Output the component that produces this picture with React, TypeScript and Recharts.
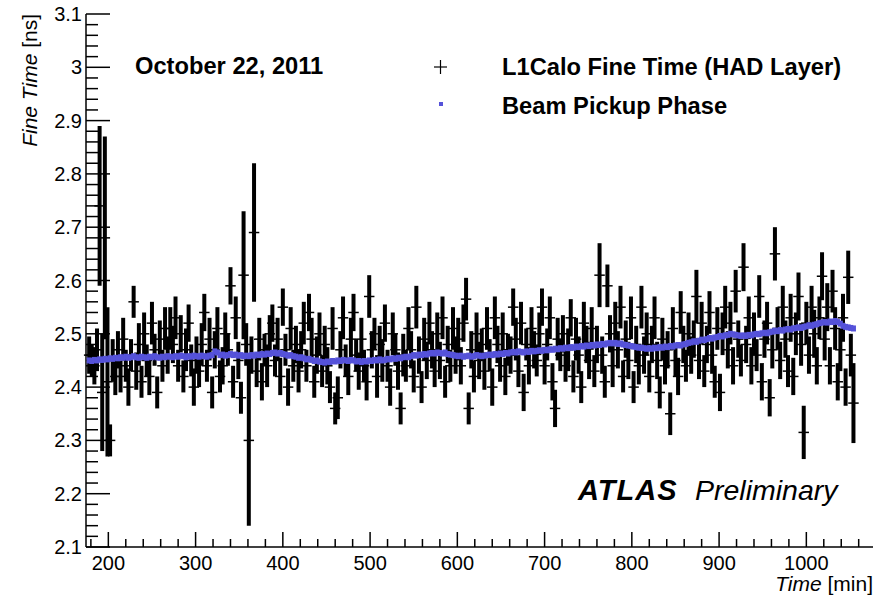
import { ScatterChart, Scatter, XAxis, YAxis, ErrorBar } from "recharts";

// L1Calo fine time vs. beam pickup phase, October 22, 2011

const times = [
  178,
  181, 184, 187, 190, 193, 196, 199, 202, 205, 208,
  211, 214, 217, 220, 223, 226, 229, 232, 235, 238,
  241, 244, 247, 250, 253, 256, 259, 262, 265, 268,
  271, 274, 277, 280, 283, 286, 289, 292, 295, 298,
  301, 304, 307, 310, 313, 316, 319, 322, 325, 328,
  331, 334, 337, 340, 343, 346, 349, 352, 355, 358,
  361, 364, 367, 370, 373, 376, 379, 382, 385, 388,
  391, 394, 397, 400, 403, 406, 409, 412, 415, 418,
  421, 424, 427, 430, 433, 436, 439, 442, 445, 448,
  451, 454, 457, 460, 463, 466, 469, 472, 475, 478,
  481, 484, 487, 490, 493, 496, 499, 502, 505, 508,
  511, 514, 517, 520, 523, 526, 529, 532, 535, 538,
  541, 544, 547, 550, 553, 556, 559, 562, 565, 568,
  571, 574, 577, 580, 583, 586, 589, 592, 595, 598,
  601, 604, 607, 610, 613, 616, 619, 622, 625, 628,
  631, 634, 637, 640, 643, 646, 649, 652, 655, 658,
  661, 664, 667, 670, 673, 676, 679, 682, 685, 688,
  691, 694, 697, 700, 703, 706, 709, 712, 715, 718,
  721, 724, 727, 730, 733, 736, 739, 742, 745, 748,
  751, 754, 757, 760, 763, 766, 769, 772, 775, 778,
  781, 784, 787, 790, 793, 796, 799, 802, 805, 808,
  811, 814, 817, 820, 823, 826, 829, 832, 835, 838,
  841, 844, 847, 850, 853, 856, 859, 862, 865, 868,
  871, 874, 877, 880, 883, 886, 889, 892, 895, 898,
  901, 904, 907, 910, 913, 916, 919, 922, 925, 928,
  931, 934, 937, 940, 943, 946, 949, 952, 955, 958,
  961, 964, 967, 970, 973, 976, 979, 982, 985, 988,
  991, 994, 997, 1000, 1003, 1006, 1009, 1012, 1015, 1018,
  1021, 1024, 1027, 1030, 1033, 1036, 1039, 1042, 1045, 1048,
  1051, 1054,
];

// L1Calo fine time (HAD layer) [ns]
const fineTime = [
  2.46,
  2.45, 2.44, 2.47, 2.74, 2.39, 2.68, 2.41, 2.30, 2.45, 2.42,
  2.47, 2.42, 2.49, 2.44, 2.40, 2.46, 2.56, 2.43, 2.48, 2.41,
  2.50, 2.45, 2.42, 2.52, 2.47, 2.39, 2.49, 2.44, 2.51, 2.46,
  2.51, 2.48, 2.53, 2.44, 2.50, 2.42, 2.47, 2.52, 2.45, 2.40,
  2.46, 2.43, 2.48, 2.54, 2.44, 2.49, 2.39, 2.47, 2.51, 2.42,
  2.44, 2.50, 2.47, 2.59, 2.41, 2.53, 2.45, 2.38, 2.61, 2.48,
  2.30, 2.46, 2.69, 2.43, 2.49, 2.41, 2.47, 2.44, 2.50, 2.52,
  2.45, 2.49, 2.42, 2.55, 2.47, 2.40, 2.51, 2.44, 2.48, 2.43,
  2.47, 2.52, 2.44, 2.54, 2.49, 2.41, 2.46, 2.50, 2.43, 2.48,
  2.44, 2.40, 2.51, 2.36, 2.38, 2.47, 2.53, 2.45, 2.42, 2.49,
  2.54, 2.46, 2.43, 2.49, 2.44, 2.41, 2.57, 2.47, 2.50, 2.42,
  2.48, 2.45, 2.52, 2.44, 2.40, 2.50, 2.47, 2.43, 2.36, 2.46,
  2.44, 2.51, 2.47, 2.42, 2.55, 2.46, 2.40, 2.49, 2.45, 2.52,
  2.47, 2.43, 2.50, 2.45, 2.53, 2.41, 2.48, 2.44, 2.51, 2.46,
  2.49, 2.44, 2.52, 2.565, 2.36, 2.47, 2.42, 2.50, 2.45, 2.48,
  2.43, 2.51, 2.46, 2.40, 2.53, 2.48, 2.44, 2.50, 2.42, 2.47,
  2.46, 2.55, 2.49, 2.43, 2.52, 2.39, 2.48, 2.44, 2.51, 2.47,
  2.45, 2.50, 2.55, 2.44, 2.48, 2.53, 2.41, 2.36, 2.49, 2.46,
  2.50, 2.44, 2.47, 2.53, 2.42, 2.49, 2.46, 2.40, 2.52, 2.48,
  2.45, 2.51, 2.43, 2.48, 2.61, 2.46, 2.41, 2.59, 2.50, 2.44,
  2.52, 2.47, 2.55, 2.42, 2.49, 2.45, 2.53, 2.40, 2.48, 2.44,
  2.55, 2.46, 2.50, 2.42, 2.48, 2.53, 2.45, 2.39, 2.49, 2.44,
  2.47, 2.35, 2.51, 2.45, 2.42, 2.54, 2.48, 2.44, 2.50, 2.46,
  2.49, 2.57, 2.45, 2.52, 2.43, 2.48, 2.54, 2.46, 2.41, 2.51,
  2.39, 2.50, 2.55, 2.47, 2.52, 2.44, 2.58, 2.49, 2.45, 2.625,
  2.48, 2.53, 2.44, 2.50, 2.46, 2.57, 2.41, 2.49, 2.52, 2.38,
  2.47, 2.65, 2.51, 2.45, 2.55, 2.49, 2.43, 2.53, 2.42, 2.50,
  2.57, 2.48, 2.315, 2.52, 2.46, 2.55, 2.50, 2.44, 2.53, 2.608,
  2.49, 2.55, 2.44, 2.58, 2.51, 2.41, 2.47, 2.53, 2.40, 2.606,
  2.46, 2.37,
];

const fineErr = [
  0.035,
  0.03, 0.035, 0.04, 0.15, 0.11, 0.19, 0.14, 0.03, 0.04, 0.035,
  0.035, 0.03, 0.04, 0.03, 0.035, 0.03, 0.03, 0.035, 0.04, 0.03,
  0.04, 0.03, 0.035, 0.04, 0.03, 0.03, 0.035, 0.03, 0.04, 0.035,
  0.04, 0.035, 0.04, 0.03, 0.035, 0.03, 0.04, 0.035, 0.03, 0.035,
  0.035, 0.03, 0.04, 0.035, 0.03, 0.04, 0.03, 0.035, 0.04, 0.03,
  0.035, 0.04, 0.03, 0.035, 0.03, 0.04, 0.035, 0.03, 0.12, 0.04,
  0.16, 0.035, 0.13, 0.03, 0.04, 0.035, 0.03, 0.04, 0.035, 0.035,
  0.03, 0.04, 0.035, 0.035, 0.03, 0.035, 0.04, 0.03, 0.035, 0.04,
  0.035, 0.04, 0.03, 0.035, 0.04, 0.03, 0.035, 0.04, 0.03, 0.035,
  0.035, 0.03, 0.04, 0.03, 0.04, 0.035, 0.04, 0.03, 0.035, 0.04,
  0.035, 0.03, 0.035, 0.04, 0.03, 0.035, 0.04, 0.035, 0.03, 0.04,
  0.035, 0.04, 0.035, 0.03, 0.035, 0.04, 0.03, 0.035, 0.03, 0.04,
  0.03, 0.04, 0.035, 0.03, 0.04, 0.035, 0.03, 0.04, 0.035, 0.04,
  0.035, 0.03, 0.04, 0.035, 0.04, 0.03, 0.035, 0.03, 0.04, 0.035,
  0.04, 0.035, 0.035, 0.04, 0.03, 0.035, 0.03, 0.04, 0.035, 0.03,
  0.035, 0.04, 0.03, 0.035, 0.04, 0.035, 0.03, 0.04, 0.035, 0.03,
  0.035, 0.035, 0.04, 0.03, 0.04, 0.035, 0.03, 0.035, 0.04, 0.035,
  0.03, 0.04, 0.035, 0.035, 0.03, 0.04, 0.035, 0.035, 0.04, 0.03,
  0.035, 0.03, 0.04, 0.035, 0.03, 0.04, 0.035, 0.03, 0.04, 0.035,
  0.035, 0.04, 0.03, 0.035, 0.06, 0.035, 0.03, 0.04, 0.035, 0.04,
  0.04, 0.035, 0.04, 0.03, 0.035, 0.035, 0.04, 0.03, 0.035, 0.035,
  0.04, 0.035, 0.04, 0.03, 0.035, 0.04, 0.035, 0.03, 0.04, 0.035,
  0.035, 0.04, 0.04, 0.03, 0.035, 0.04, 0.035, 0.03, 0.04, 0.035,
  0.035, 0.05, 0.035, 0.04, 0.03, 0.035, 0.04, 0.035, 0.03, 0.04,
  0.035, 0.04, 0.04, 0.035, 0.04, 0.035, 0.04, 0.035, 0.03, 0.045,
  0.035, 0.04, 0.035, 0.04, 0.03, 0.04, 0.035, 0.035, 0.04, 0.035,
  0.035, 0.05, 0.04, 0.035, 0.04, 0.035, 0.03, 0.045, 0.035, 0.04,
  0.045, 0.04, 0.05, 0.04, 0.035, 0.04, 0.045, 0.035, 0.04, 0.045,
  0.04, 0.045, 0.035, 0.04, 0.04, 0.035, 0.04, 0.045, 0.035, 0.05,
  0.04, 0.075,
];

// beam pickup phase [ns]
const pickupPhase = [
  2.450,
  2.449, 2.451, 2.450, 2.452, 2.451, 2.453, 2.452, 2.454, 2.453, 2.455,
  2.454, 2.456, 2.455, 2.457, 2.455, 2.456, 2.458, 2.456, 2.455, 2.457,
  2.456, 2.455, 2.457, 2.456, 2.458, 2.456, 2.455, 2.457, 2.456, 2.458,
  2.457, 2.456, 2.458, 2.457, 2.459, 2.458, 2.456, 2.458, 2.457, 2.459,
  2.458, 2.457, 2.459, 2.458, 2.457, 2.459, 2.460, 2.467, 2.465, 2.460,
  2.461, 2.459, 2.460, 2.462, 2.460, 2.461, 2.459, 2.460, 2.458, 2.459,
  2.458, 2.460, 2.459, 2.461, 2.460, 2.462, 2.461, 2.463, 2.462, 2.464,
  2.465, 2.463, 2.464, 2.462, 2.461, 2.459, 2.460, 2.458, 2.457, 2.455,
  2.456, 2.454, 2.452, 2.453, 2.451, 2.449, 2.450, 2.448, 2.447, 2.446,
  2.448, 2.447, 2.449, 2.448, 2.450, 2.449, 2.451, 2.450, 2.449, 2.451,
  2.450, 2.448, 2.449, 2.447, 2.449, 2.448, 2.450, 2.449, 2.451, 2.450,
  2.452, 2.450, 2.451, 2.453, 2.452, 2.454, 2.453, 2.455, 2.454, 2.456,
  2.457, 2.456, 2.458, 2.460, 2.459, 2.461, 2.460, 2.462, 2.461, 2.463,
  2.464, 2.463, 2.465, 2.464, 2.463, 2.465, 2.462, 2.461, 2.460, 2.459,
  2.458, 2.459, 2.457, 2.458, 2.459, 2.457, 2.458, 2.460, 2.459, 2.458,
  2.459, 2.460, 2.461, 2.460, 2.462, 2.461, 2.463, 2.462, 2.464, 2.463,
  2.465, 2.466, 2.465, 2.467, 2.466, 2.465, 2.467, 2.466, 2.468, 2.467,
  2.468, 2.469, 2.468, 2.470, 2.469, 2.471, 2.470, 2.472, 2.471, 2.473,
  2.472, 2.474, 2.473, 2.475, 2.474, 2.476, 2.475, 2.477, 2.476, 2.478,
  2.477, 2.479, 2.478, 2.480, 2.479, 2.481, 2.480, 2.482, 2.483, 2.482,
  2.483, 2.481, 2.482, 2.480, 2.479, 2.478, 2.477, 2.476, 2.475, 2.474,
  2.474, 2.473, 2.472, 2.473, 2.472, 2.474, 2.473, 2.475, 2.474, 2.476,
  2.475, 2.477, 2.476, 2.478, 2.479, 2.478, 2.480, 2.481, 2.483, 2.484,
  2.486, 2.485, 2.487, 2.489, 2.488, 2.490, 2.492, 2.491, 2.493, 2.494,
  2.496, 2.495, 2.497, 2.498, 2.500, 2.499, 2.498, 2.497, 2.496, 2.497,
  2.496, 2.498, 2.497, 2.499, 2.500, 2.499, 2.501, 2.502, 2.501, 2.503,
  2.504, 2.506, 2.505, 2.507, 2.506, 2.508, 2.509, 2.508, 2.510, 2.511,
  2.512, 2.511, 2.513, 2.514, 2.516, 2.515, 2.517, 2.518, 2.520, 2.521,
  2.522, 2.521, 2.523, 2.522, 2.524, 2.522, 2.519, 2.515, 2.513, 2.512,
  2.511, 2.510,
];

// half width of each time bin [min]
const timeHalfWidth = 6;

const xMajorTicks = [200, 300, 400, 500, 600, 700, 800, 900, 1000];
const xMinorTicks = [
  180, 220, 240, 260, 280, 320, 340, 360, 380, 420, 440, 460, 480, 520, 540, 560, 580,
  620, 640, 660, 680, 720, 740, 760, 780, 820, 840, 860, 880, 920, 940, 960, 980,
  1020, 1040, 1060,
];
const yMajorTicks = [2.1, 2.2, 2.3, 2.4, 2.5, 2.6, 2.7, 2.8, 2.9, 3, 3.1];
const yMinorTicks = [
  2.12, 2.14, 2.16, 2.18, 2.22, 2.24, 2.26, 2.28, 2.32, 2.34, 2.36, 2.38,
  2.42, 2.44, 2.46, 2.48, 2.52, 2.54, 2.56, 2.58, 2.62, 2.64, 2.66, 2.68,
  2.72, 2.74, 2.76, 2.78, 2.82, 2.84, 2.86, 2.88, 2.92, 2.94, 2.96, 2.98,
  3.02, 3.04, 3.06, 3.08,
];

const xDomain = [174.4, 1076.4];
const yDomain = [2.1, 3.1];

const fineRows = times.map((time, i) => ({
  time,
  value: fineTime[i],
  err: fineErr[i],
  xErr: timeHalfWidth,
}));
const phaseRows = times.map((time, i) => ({ time, value: pickupPhase[i] }));

const FONT = '"Liberation Sans", Arial, Helvetica, sans-serif';
const BLUE = "#5552d9";
const INK = "#000";

function XTick({ x, y, payload }: any) {
  const major = xMajorTicks.includes(payload.value);
  return (
    <g>
      <line x1={x} y1={y} x2={x} y2={y - (major ? 15 : 8)} stroke={INK} strokeWidth={1.5} />
      {major && (
        <text x={x} y={y + 23} textAnchor="middle" fontSize={20} fontFamily={FONT} fill={INK}>
          {payload.value}
        </text>
      )}
    </g>
  );
}

function YTick({ x, y, payload }: any) {
  const major = yMajorTicks.includes(payload.value);
  return (
    <g>
      <line x1={x} y1={y} x2={x + (major ? 24 : 12)} y2={y} stroke={INK} strokeWidth={1.5} />
      {major && (
        <text x={x - 4} y={y + 7} textAnchor="end" fontSize={20} fontFamily={FONT} fill={INK}>
          {String(payload.value)}
        </text>
      )}
    </g>
  );
}

const NoMarker = () => <g />;

const PhaseMarker = ({ cx, cy }: any) => (
  <rect x={cx - 2.5} y={cy - 3} width={5} height={6} fill={BLUE} />
);

export default function App() {
  return (
    <div style={{ position: "absolute", left: 0, top: 0, width: 887, height: 595, background: "#fff" }}>
      <ScatterChart width={887} height={595} margin={{ top: 14, right: 14, bottom: 0, left: 0 }}>
        <XAxis
          type="number"
          dataKey="time"
          domain={xDomain}
          allowDataOverflow
          ticks={[...xMajorTicks, ...xMinorTicks]}
          interval={0}
          tick={<XTick />}
          tickLine={false}
          tickSize={0}
          tickMargin={0}
          height={48}
          axisLine={{ stroke: INK, strokeWidth: 1.5 }}
        />
        <XAxis
          xAxisId="top"
          orientation="top"
          type="number"
          domain={xDomain}
          allowDataOverflow
          tick={false}
          tickLine={false}
          height={0}
          axisLine={{ stroke: INK, strokeWidth: 1.5 }}
        />
        <YAxis
          type="number"
          dataKey="value"
          domain={yDomain}
          allowDataOverflow
          ticks={[...yMajorTicks, ...yMinorTicks]}
          interval={0}
          tick={<YTick />}
          tickLine={false}
          tickSize={0}
          tickMargin={0}
          width={86}
          axisLine={{ stroke: INK, strokeWidth: 1.5 }}
        />
        <YAxis
          yAxisId="right"
          orientation="right"
          type="number"
          domain={yDomain}
          allowDataOverflow
          tick={false}
          tickLine={false}
          width={0}
          axisLine={{ stroke: INK, strokeWidth: 1.5 }}
        />
        <Scatter data={fineRows} shape={NoMarker} isAnimationActive={false}>
          <ErrorBar dataKey="xErr" direction="x" width={0} stroke={INK} strokeWidth={1.5} isAnimationActive={false} />
          <ErrorBar dataKey="err" direction="y" width={0} stroke={INK} strokeWidth={4} isAnimationActive={false} />
        </Scatter>
        <Scatter data={phaseRows} shape={PhaseMarker} isAnimationActive={false} />
      </ScatterChart>

      <svg
        width={887}
        height={595}
        style={{ position: "absolute", left: 0, top: 0, pointerEvents: "none" }}
        fontFamily={FONT}
      >
        <text x={37} y={14} textAnchor="end" fontSize={21} fill={INK} transform="rotate(-90 37 14)">
          <tspan fontStyle="italic">Fine Time</tspan>
          <tspan> [ns]</tspan>
        </text>
        <text x={873} y={591} textAnchor="end" fontSize={21} fill={INK}>
          <tspan fontStyle="italic">Time</tspan>
          <tspan> [min]</tspan>
        </text>

        <text x={135} y={74} fontSize={23.7} fontWeight="bold" fill={INK}>
          October 22, 2011
        </text>

        <line x1={434} y1={67} x2={447} y2={67} stroke={INK} strokeWidth={1.2} />
        <line x1={440.5} y1={60} x2={440.5} y2={74} stroke={INK} strokeWidth={1.2} />
        <text x={502} y={75} fontSize={23.7} fontWeight="bold" fill={INK}>
          L1Calo Fine Time (HAD Layer)
        </text>
        <rect x={439} y={102} width={4} height={4} fill={BLUE} />
        <text x={502} y={114} fontSize={23.7} fontWeight="bold" fill={INK}>
          Beam Pickup Phase
        </text>

        <text x={578} y={500} fontSize={29} fontWeight="bold" fontStyle="italic" letterSpacing={1} fill={INK}>
          ATLAS
        </text>
        <text x={695} y={500} fontSize={28.5} fontStyle="italic" fill={INK}>
          Preliminary
        </text>
      </svg>
    </div>
  );
}
